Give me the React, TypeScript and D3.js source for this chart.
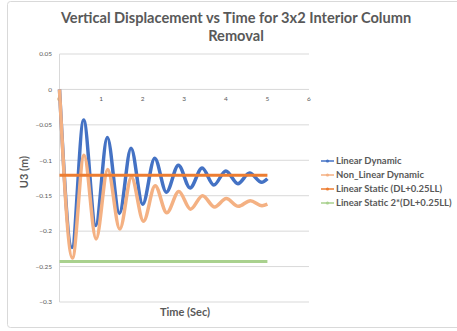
import React, { useEffect, useRef } from 'react';
import * as d3 from 'd3';

// series names (legend order)
const seriesNames = [
  'Linear Dynamic',
  'Non_Linear Dynamic',
  'Linear Static (DL+0.25LL)',
  'Linear Static 2*(DL+0.25LL)',
];
const seriesColors = ['#4472C4', '#F4B183', '#ED7D31', '#A9D18E'];

// Linear dynamic response (time in sec, U3 in m) - peaks and troughs
const timeLinear = [0, 0.3, 0.58, 0.87, 1.15, 1.44, 1.72, 2.0, 2.29, 2.57, 2.86, 3.14, 3.43, 3.71, 4.0, 4.29, 4.57, 4.86, 5.0];
const u3Linear = [0, -0.223, -0.043, -0.192, -0.068, -0.175, -0.083, -0.162, -0.097, -0.145, -0.107, -0.139, -0.111, -0.135, -0.115, -0.133, -0.118, -0.131, -0.126];

// Non linear dynamic response
const timeNonLinear = [0, 0.31, 0.59, 0.88, 1.16, 1.45, 1.73, 2.02, 2.3, 2.58, 2.87, 3.15, 3.44, 3.73, 4.01, 4.3, 4.59, 4.87, 5.0];
const u3NonLinear = [0, -0.238, -0.093, -0.211, -0.113, -0.197, -0.124, -0.186, -0.136, -0.174, -0.144, -0.169, -0.15, -0.166, -0.154, -0.165, -0.157, -0.164, -0.162];

// static results
const timeStatic = [0, 5];
const u3Static = [-0.121, -0.121];
const u3Static2 = [-0.243, -0.243];

const xTicks = [0, 1, 2, 3, 4, 5, 6];
const yTicks = [0.05, 0, -0.05, -0.1, -0.15, -0.2, -0.25, -0.3];

const App = () => {
  const svgRef = useRef<SVGSVGElement>(null);

  useEffect(() => {
    const width = 457;
    const height = 331;
    const svg = d3.select(svgRef.current);
    svg.selectAll('*').remove();

    const x = d3.scaleLinear().domain([0, 6]).range([59.5, 309]);
    const y = d3.scaleLinear().domain([-0.3, 0.05]).range([302, 54]);
    const font = 'Lato, "Open Sans", sans-serif';

    // chart frame
    svg.append('rect')
      .attr('x', 7.5).attr('y', 1.5)
      .attr('width', 460).attr('height', 326)
      .attr('rx', 3)
      .attr('fill', '#fff')
      .attr('stroke', '#d9d9d9');

    // title
    const title = svg.append('text')
      .attr('text-anchor', 'middle')
      .style('font-family', font)
      .style('font-weight', 700)
      .style('font-size', '14.6px')
      .style('fill', '#595959');
    title.append('tspan').attr('x', 236).attr('y', 23).text('Vertical Displacement vs Time for 3x2 Interior Column');
    title.append('tspan').attr('x', 236).attr('y', 41).text('Removal');

    // gridlines
    svg.append('g')
      .selectAll('line')
      .data(yTicks)
      .join('line')
      .attr('x1', x(0)).attr('x2', x(6))
      .attr('y1', d => y(d)).attr('y2', d => y(d))
      .attr('stroke', '#d9d9d9')
      .attr('stroke-width', 1);

    // vertical axis line
    svg.append('line')
      .attr('x1', x(0)).attr('x2', x(0))
      .attr('y1', y(0.05)).attr('y2', y(-0.3))
      .attr('stroke', '#d9d9d9');

    // y tick labels
    svg.append('g')
      .selectAll('text')
      .data(yTicks)
      .join('text')
      .attr('x', 52)
      .attr('y', d => y(d))
      .attr('dy', '0.35em')
      .attr('text-anchor', 'end')
      .style('font-family', font)
      .style('font-size', '6.5px')
      .style('fill', '#595959')
      .text(d => d3.format('')(d));

    // x tick labels, sitting under the zero axis
    svg.append('g')
      .selectAll('text')
      .data(xTicks)
      .join('text')
      .attr('x', d => x(d))
      .attr('y', y(0) + 12)
      .attr('text-anchor', 'middle')
      .style('font-family', font)
      .style('font-size', '6.5px')
      .style('fill', '#595959')
      .text(d => d);

    // axis titles
    svg.append('text')
      .attr('x', 185).attr('y', 316)
      .attr('text-anchor', 'middle')
      .style('font-family', font)
      .style('font-weight', 700)
      .style('font-size', '11px')
      .style('fill', '#595959')
      .text('Time (Sec)');

    svg.append('text')
      .attr('transform', 'translate(28,172) rotate(-90)')
      .attr('text-anchor', 'middle')
      .style('font-family', font)
      .style('font-weight', 700)
      .style('font-size', '11px')
      .style('fill', '#595959')
      .text('U3 (m)');

    const series = [
      { t: timeLinear, v: u3Linear, w: 3.5, curve: d3.curveMonotoneX },
      { t: timeNonLinear, v: u3NonLinear, w: 3.5, curve: d3.curveMonotoneX },
      { t: timeStatic, v: u3Static, w: 3, curve: d3.curveLinear },
      { t: timeStatic, v: u3Static2, w: 3, curve: d3.curveLinear },
    ];

    series.forEach((s, i) => {
      const line = d3.line<number>()
        .x((_, j) => x(s.t[j]))
        .y(d => y(d))
        .curve(s.curve);
      svg.append('path')
        .datum(s.v)
        .attr('d', line)
        .attr('fill', 'none')
        .attr('stroke', seriesColors[i])
        .attr('stroke-width', s.w)
        .attr('stroke-linejoin', 'round');
    });

    // legend
    const legend = svg.append('g')
      .selectAll('g')
      .data(seriesNames)
      .join('g')
      .attr('transform', (_, i) => `translate(321,${161 + i * 14})`);
    legend.append('line')
      .attr('x1', 0).attr('x2', 13)
      .attr('stroke', (_, i) => seriesColors[i])
      .attr('stroke-width', 1.5);
    legend.append('circle')
      .attr('cx', 6.5).attr('r', 1.6)
      .attr('fill', (_, i) => seriesColors[i]);
    legend.append('text')
      .attr('x', 15).attr('dy', '0.35em')
      .style('font-family', font)
      .style('font-weight', 700)
      .style('font-size', '9.5px')
      .style('fill', '#595959')
      .text(d => d);

    svg.attr('width', width).attr('height', height);
  }, []);

  return (
    <svg ref={svgRef} width={457} height={331} style={{ position: 'absolute', left: 0, top: 0, background: '#fff' }}></svg>
  );
};

export default App;
